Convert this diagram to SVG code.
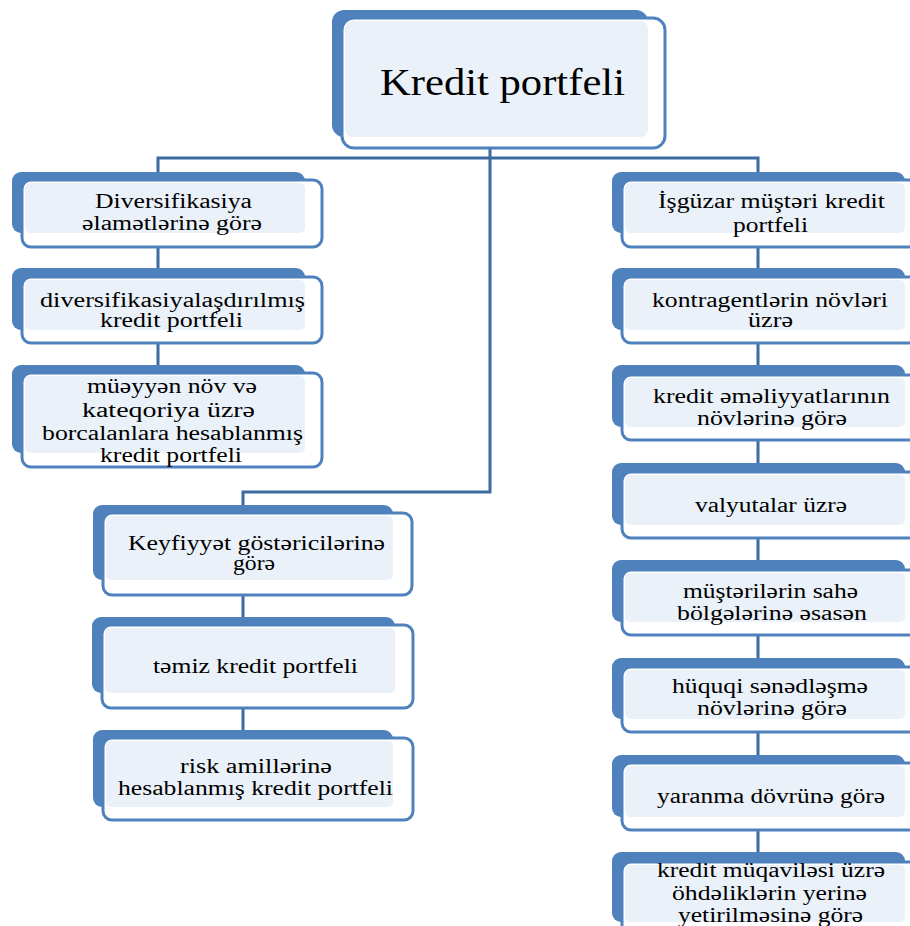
<svg xmlns="http://www.w3.org/2000/svg" width="910" height="926" viewBox="0 0 910 926" font-family="Liberation Serif, Times New Roman, serif">
<style>
.back{fill:#4F81BD}
.front{fill:#FFFFFF;stroke:#4F81BD;stroke-width:3}
.inner{fill:#EBF1F9}
text{font-family:Liberation Serif, Times New Roman, serif;font-size:20px;fill:#000}
.title{font-size:38px}
.conn{stroke:#3D6BA4;stroke-width:3;fill:none}
</style>
<rect width="910" height="926" fill="#FFFFFF"/>
<g id="connectors">
<path class="conn" d="M158,172 V158 H758 V172"/>
<path class="conn" d="M490,148 V492 H243 V505"/>
<path class="conn" d="M158,247 V268 M158,343 V365"/>
<path class="conn" d="M243,595 V617 M243,708 V730"/>
<path class="conn" d="M758,247 V268 M758,343 V365 M758,440 V463 M758,538 V560 M758,632 V658 M758,732 V755 M758,830 V852"/>
</g>
<g id="title">
<rect class="back" x="332" y="10" width="316" height="127" rx="12"/>
<rect class="front" x="342" y="18" width="323" height="130" rx="12"/>
<rect class="inner" x="345" y="21" width="303" height="116" rx="8"/>
<text class="title" x="380" y="95" textLength="245" lengthAdjust="spacingAndGlyphs">Kredit portfeli</text>
</g>
<g id="L1">
<rect class="back" x="12" y="172" width="293" height="61" rx="9"/>
<rect class="front" x="22" y="180" width="300" height="67" rx="9"/>
<rect class="inner" x="25" y="183" width="280" height="50" rx="5"/>
<text x="95" y="208" textLength="157" lengthAdjust="spacingAndGlyphs">Diversifikasiya</text>
<text x="82" y="230" textLength="180" lengthAdjust="spacingAndGlyphs">əlamətlərinə görə</text>
</g>
<g id="L2">
<rect class="back" x="12" y="268" width="293" height="62" rx="9"/>
<rect class="front" x="22" y="277" width="300" height="66" rx="9"/>
<rect class="inner" x="25" y="280" width="280" height="50" rx="5"/>
<text x="40" y="307" textLength="265" lengthAdjust="spacingAndGlyphs">diversifikasiyalaşdırılmış</text>
<text x="100" y="327" textLength="143" lengthAdjust="spacingAndGlyphs">kredit portfeli</text>
</g>
<g id="L3">
<rect class="back" x="12" y="365" width="293" height="88" rx="9"/>
<rect class="front" x="22" y="373" width="300" height="94" rx="9"/>
<rect class="inner" x="25" y="376" width="280" height="77" rx="5"/>
<text x="87" y="393" textLength="170" lengthAdjust="spacingAndGlyphs">müəyyən növ və</text>
<text x="82" y="417" textLength="173" lengthAdjust="spacingAndGlyphs">kateqoriya üzrə</text>
<text x="42" y="440" textLength="261" lengthAdjust="spacingAndGlyphs">borcalanlara hesablanmış</text>
<text x="100" y="462" textLength="142" lengthAdjust="spacingAndGlyphs">kredit portfeli</text>
</g>
<g id="M1">
<rect class="back" x="93" y="505" width="300" height="75" rx="9"/>
<rect class="front" x="103" y="513" width="309" height="82" rx="9"/>
<rect class="inner" x="106" y="516" width="287" height="64" rx="5"/>
<text x="128" y="550" textLength="257" lengthAdjust="spacingAndGlyphs">Keyfiyyət göstəricilərinə</text>
<text x="233" y="570" textLength="42" lengthAdjust="spacingAndGlyphs">görə</text>
</g>
<g id="M2">
<rect class="back" x="92" y="617" width="303" height="76" rx="9"/>
<rect class="front" x="102" y="625" width="311" height="83" rx="9"/>
<rect class="inner" x="105" y="628" width="290" height="65" rx="5"/>
<text x="153" y="673" textLength="205" lengthAdjust="spacingAndGlyphs">təmiz kredit portfeli</text>
</g>
<g id="M3">
<rect class="back" x="93" y="730" width="300" height="77" rx="9"/>
<rect class="front" x="103" y="738" width="310" height="82" rx="9"/>
<rect class="inner" x="106" y="741" width="287" height="66" rx="5"/>
<text x="180" y="773" textLength="152" lengthAdjust="spacingAndGlyphs">risk amillərinə</text>
<text x="118" y="795" textLength="275" lengthAdjust="spacingAndGlyphs">hesablanmış kredit portfeli</text>
</g>
<g id="R1">
<rect class="back" x="612" y="172" width="293" height="61" rx="9"/>
<rect class="front" x="622" y="180" width="300" height="67" rx="9"/>
<rect class="inner" x="625" y="183" width="280" height="50" rx="5"/>
<text x="658" y="208" textLength="227" lengthAdjust="spacingAndGlyphs">İşgüzar müştəri kredit</text>
<text x="733" y="232" textLength="75" lengthAdjust="spacingAndGlyphs">portfeli</text>
</g>
<g id="R2">
<rect class="back" x="612" y="268" width="293" height="62" rx="9"/>
<rect class="front" x="622" y="277" width="300" height="66" rx="9"/>
<rect class="inner" x="625" y="280" width="280" height="50" rx="5"/>
<text x="652" y="307" textLength="236" lengthAdjust="spacingAndGlyphs">kontragentlərin növləri</text>
<text x="748" y="327" textLength="45" lengthAdjust="spacingAndGlyphs">üzrə</text>
</g>
<g id="R3">
<rect class="back" x="612" y="365" width="293" height="62" rx="9"/>
<rect class="front" x="622" y="375" width="300" height="65" rx="9"/>
<rect class="inner" x="625" y="378" width="280" height="49" rx="5"/>
<text x="653" y="403" textLength="237" lengthAdjust="spacingAndGlyphs">kredit əməliyyatlarının</text>
<text x="697" y="425" textLength="150" lengthAdjust="spacingAndGlyphs">növlərinə görə</text>
</g>
<g id="R4">
<rect class="back" x="612" y="463" width="293" height="62" rx="9"/>
<rect class="front" x="622" y="472" width="300" height="66" rx="9"/>
<rect class="inner" x="625" y="475" width="280" height="50" rx="5"/>
<text x="695" y="512" textLength="152" lengthAdjust="spacingAndGlyphs">valyutalar üzrə</text>
</g>
<g id="R5">
<rect class="back" x="612" y="560" width="293" height="62" rx="9"/>
<rect class="front" x="622" y="570" width="300" height="65" rx="9"/>
<rect class="inner" x="625" y="573" width="280" height="49" rx="5"/>
<text x="683" y="598" textLength="175" lengthAdjust="spacingAndGlyphs">müştərilərin sahə</text>
<text x="677" y="620" textLength="190" lengthAdjust="spacingAndGlyphs">bölgələrinə əsasən</text>
</g>
<g id="R6">
<rect class="back" x="612" y="658" width="293" height="61" rx="9"/>
<rect class="front" x="622" y="667" width="300" height="65" rx="9"/>
<rect class="inner" x="625" y="670" width="280" height="49" rx="5"/>
<text x="672" y="693" textLength="196" lengthAdjust="spacingAndGlyphs">hüquqi sənədləşmə</text>
<text x="697" y="715" textLength="150" lengthAdjust="spacingAndGlyphs">növlərinə görə</text>
</g>
<g id="R7">
<rect class="back" x="612" y="755" width="293" height="62" rx="9"/>
<rect class="front" x="622" y="763" width="300" height="67" rx="9"/>
<rect class="inner" x="625" y="766" width="280" height="51" rx="5"/>
<text x="657" y="803" textLength="228" lengthAdjust="spacingAndGlyphs">yaranma dövrünə görə</text>
</g>
<g id="R8">
<rect class="back" x="612" y="852" width="293" height="70" rx="9"/>
<rect class="front" x="622" y="862" width="300" height="80" rx="9"/>
<rect class="inner" x="625" y="865" width="280" height="57" rx="5"/>
<text x="657" y="877" textLength="228" lengthAdjust="spacingAndGlyphs">kredit müqaviləsi üzrə</text>
<text x="672" y="900" textLength="195" lengthAdjust="spacingAndGlyphs">öhdəliklərin yerinə</text>
<text x="678" y="922" textLength="185" lengthAdjust="spacingAndGlyphs">yetirilməsinə görə</text>
</g>
</svg>
